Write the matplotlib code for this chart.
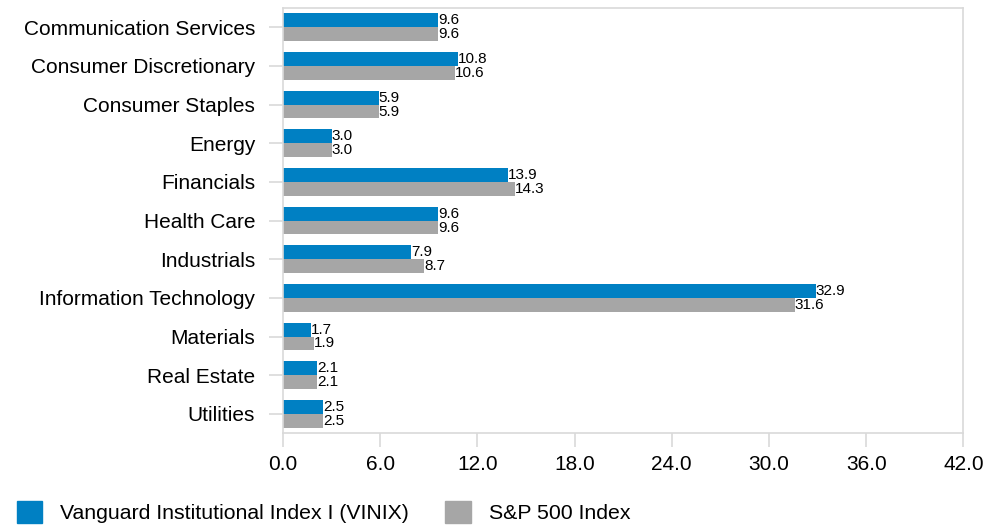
import numpy as np
import matplotlib.pyplot as plt
from matplotlib.patches import Patch

plt.rcParams['font.family'] = ['Liberation Sans', 'DejaVu Sans']

sectors = ["Communication Services", "Consumer Discretionary", "Consumer Staples",
           "Energy", "Financials", "Health Care", "Industrials",
           "Information Technology", "Materials", "Real Estate", "Utilities"]
fund = [9.6, 10.8, 5.9, 3.0, 13.9, 9.6, 7.9, 32.9, 1.7, 2.1, 2.5]
index = [9.6, 10.6, 5.9, 3.0, 14.3, 9.6, 8.7, 31.6, 1.9, 2.1, 2.5]
fund_name = "Vanguard Institutional Index I (VINIX)"
index_name = "S&P 500 Index"
xticks = [0, 6, 12, 18, 24, 30, 36, 42]

blue = '#0080c3'
gray = '#a6a6a6'

fig = plt.figure(figsize=(9.86, 5.27), dpi=100)
ax = fig.add_axes([0.287, 0.178, 0.690, 0.807])

y = np.arange(len(sectors))
h = 0.36
ax.barh(y - h / 2, fund, height=h, color=blue)
ax.barh(y + h / 2, index, height=h, color=gray)

for yi, v in zip(y, fund):
    ax.text(v, yi - h / 2, f"{v:.1f}", va='center', ha='left', fontsize=11)
for yi, v in zip(y, index):
    ax.text(v, yi + h / 2, f"{v:.1f}", va='center', ha='left', fontsize=11)

ax.set_ylim(len(sectors) - 0.5, -0.5)
ax.set_xlim(0, 42)
ax.set_yticks(y)
ax.set_yticklabels(sectors, fontsize=15)
ax.set_xticks(xticks)
ax.set_xticklabels([f"{t:.1f}" for t in xticks], fontsize=15)
ax.tick_params(axis='both', color='#d9d9d9', length=10, width=1.2)
ax.tick_params(axis='x', pad=6)
ax.tick_params(axis='y', pad=10)
for s in ax.spines.values():
    s.set_color('#d9d9d9')
    s.set_linewidth(1.2)

handles = [Patch(color=blue, label=fund_name), Patch(color=gray, label=index_name)]
fig.legend(handles=handles, loc='center left', bbox_to_anchor=(0.017, 0.028),
           ncol=2, frameon=False, fontsize=15.3, handlelength=1.2, handleheight=1.2,
           handletextpad=0.85, columnspacing=1.7, borderpad=0, borderaxespad=0)

fig.savefig('out.png', dpi=100)
